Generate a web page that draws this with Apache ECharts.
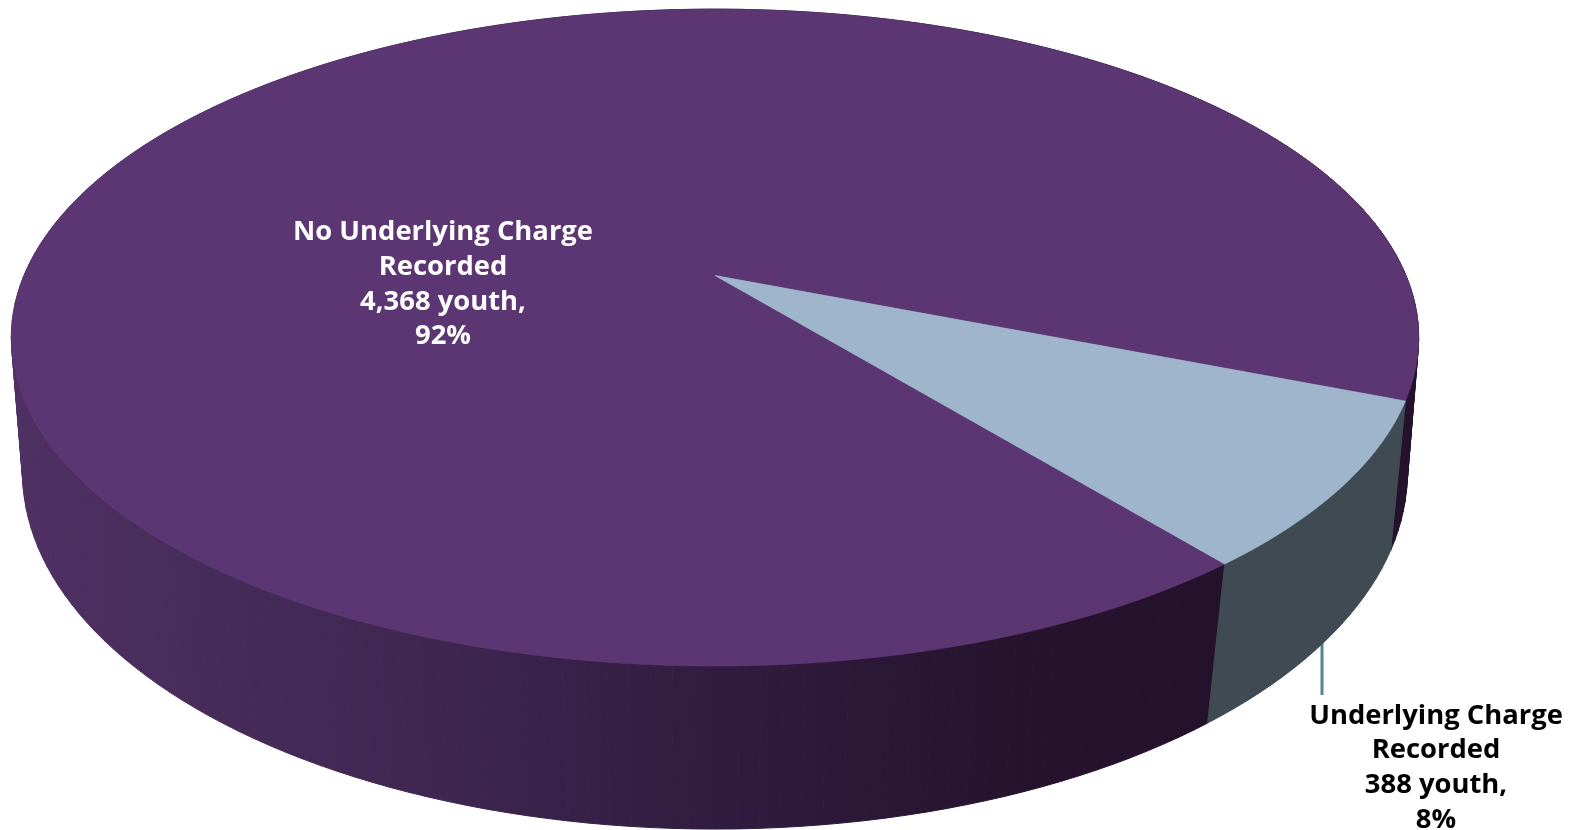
<!DOCTYPE html>
<html>
<head>
<meta charset="utf-8">
<style>html,body{margin:0;padding:0;background:#fff}#chart{width:1571px;height:830px}</style>
<script src="https://cdn.jsdelivr.net/npm/echarts@6/dist/echarts.min.js"></script>
</head>
<body>
<div id="chart"></div>
<script>
// Youth records by whether an underlying charge was recorded
const categories = ['No Underlying Charge\nRecorded', 'Underlying Charge\nRecorded'];
const youthCounts = [4368, 388];
const topColors = ['#5c3672', '#9eb5cc'];
const labelColors = ['#ffffff', '#000000'];

// Where the first slice begins on the disc, in degrees clockwise from due right
const firstSliceAngle = 51;

// Perspective disc: the two planes are the top face and the base of the cylinder
const topPlane = { cx: 715, cy: 275.5, a: 691, b: 316.7, k: 0.189 };
const basePlane = { cx: 715, cy: 414, a: 683, b: 347, k: 0.164 };

const TOTAL = youthCounts.reduce((s, v) => s + v, 0);

function project(plane, deg) {
  const t = deg * Math.PI / 180, c = Math.cos(t), s = Math.sin(t), d = 1 - plane.k * s;
  return [plane.cx + plane.a * c / d, plane.cy + plane.b * s / d];
}

// Side wall shading runs from left to right across the disc
function wallFill(index) {
  if (index === 1) return '#3f4a52';
  return new echarts.graphic.LinearGradient(20, 0, 1200, 0, [
    { offset: 0, color: '#4e3062' },
    { offset: 0.36, color: '#3e2650' },
    { offset: 0.62, color: '#2f1b3d' },
    { offset: 0.83, color: '#26142f' },
    { offset: 1, color: '#24122d' }
  ], true);
}

const labelSpots = [[443, 284.5], [1436, 768]];

function renderSlice(params, api) {
  const i = params.dataIndex;
  const value = api.value(0);
  let start = firstSliceAngle;
  for (let j = 0; j < i; j++) start += youthCounts[j] / TOTAL * 360;
  const span = value / TOTAL * 360;
  const children = [];
  const fill = wallFill(i);

  // side wall, built from narrow bands
  const step = 1.5;
  const bands = Math.ceil(span / step);
  for (let n = 0; n < bands; n++) {
    const t0 = start + span * n / bands, t1 = start + span * (n + 1) / bands;
    const p = [project(topPlane, t0), project(topPlane, t1), project(basePlane, t1), project(basePlane, t0)];
    children.push({
      type: 'polygon', z2: 1, silent: true,
      shape: { points: p },
      style: { fill: fill, stroke: fill, lineWidth: 1 }
    });
  }

  // top face
  const pts = [[topPlane.cx, topPlane.cy]];
  for (let n = 0; n <= Math.ceil(span); n++) {
    pts.push(project(topPlane, start + span * n / Math.ceil(span)));
  }
  children.push({
    type: 'polygon', z2: 2 + i, silent: true,
    shape: { points: pts },
    style: { fill: topColors[i], stroke: topColors[i], lineWidth: 0.6 }
  });

  // label: name, count, share
  const text = categories[i] + '\n' + value.toLocaleString('en-US') + ' youth,\n' +
    Math.round(value / TOTAL * 100) + '%';
  children.push({
    type: 'text', z2: 10, silent: true,
    x: labelSpots[i][0], y: labelSpots[i][1],
    style: {
      text: text, fill: labelColors[i], align: 'center', verticalAlign: 'middle',
      font: 'bold 27.4px "Open Sans"', lineHeight: 34.7
    }
  });

  // leader line for the small slice
  if (i === 1) {
    children.push({
      type: 'line', z2: 0, silent: true,
      shape: { x1: 1322, y1: 640, x2: 1322, y2: 695 },
      style: { stroke: '#4f8595', lineWidth: 3 }
    });
  }
  return { type: 'group', children: children };
}

const chart = echarts.init(document.getElementById('chart'), null, { renderer: 'canvas' });
chart.setOption({
  animation: false,
  backgroundColor: '#ffffff',
  series: [{
    type: 'custom',
    coordinateSystem: 'none',
    clip: false,
    renderItem: renderSlice,
    data: youthCounts.map(v => [v])
  }]
});
</script>
</body>
</html>
